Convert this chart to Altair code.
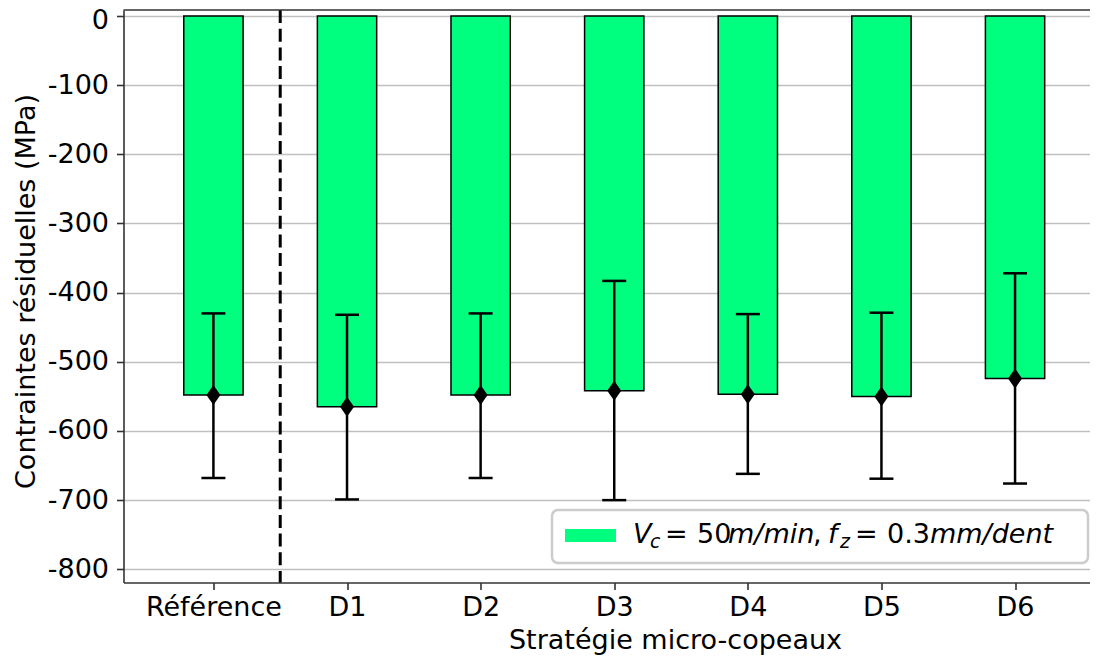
import altair as alt
import pandas as pd

# ---- data ----
categories = ["Référence", "D1", "D2", "D3", "D4", "D5", "D6"]
means = [-548, -565, -548, -542, -547, -550, -524]
err_upper = [-430, -432, -430, -383, -431, -429, -372]
err_lower = [-668, -699, -668, -700, -662, -669, -676]
y_ticks = [0, -100, -200, -300, -400, -500, -600, -700, -800]

df = pd.DataFrame({
    "pos": list(range(len(categories))),
    "cat": categories,
    "mean": means,
    "hi": err_upper,
    "lo": err_lower,
})

W, H = 966.5, 572.5
FONT = "DejaVu Sans"
GREEN = "#00ff7f"

label_expr = "[" + ",".join("'" + c + "'" for c in categories) + "][datum.value]"

x_scale = alt.Scale(domain=[-0.673, 6.561], nice=False, zero=False, padding=0)
y_scale = alt.Scale(domain=[-819.1, 8.7], nice=False, zero=False, padding=0)

x_axis = alt.Axis(values=list(range(len(categories))), labelExpr=label_expr,
                  title="Stratégie micro-copeaux", grid=False, labelPadding=5,
                  titleBaseline="alphabetic", titleX=551.5, titleY=65.5,
                  labelFlush=False)
y_axis = alt.Axis(values=y_ticks, labelExpr="'' + datum.value", grid=True,
                  title="Contraintes résiduelles (MPa)", labelPadding=8,
                  labelOffset={"condition": {"test": "datum.value === 0", "value": 4}, "value": 0},
                  titleBaseline="alphabetic", titleX=-89.5, titleY=281)

X = alt.X("pos:Q", scale=x_scale, axis=x_axis)

base = alt.Chart(df)

bars = base.mark_bar(size=59.3, color=GREEN, stroke="black", strokeWidth=1.5).encode(
    x=X,
    y=alt.Y("mean:Q", scale=y_scale, axis=y_axis),
    y2=alt.datum(0),
)

sep_value = (df["pos"].iloc[0] + df["pos"].iloc[1]) / 2
sep = alt.Chart(pd.DataFrame({"pos": [sep_value]})).mark_rule(
    color="black", strokeWidth=3, strokeDash=[13, 5.7]
).encode(x=X)

err_line = base.mark_rule(color="black", strokeWidth=2.5).encode(
    x=X,
    y=alt.Y("lo:Q", scale=y_scale, axis=y_axis),
    y2="hi:Q",
)
cap_lo = base.mark_tick(orient="horizontal", size=24, thickness=2.5, color="black", opacity=1).encode(
    x=X,
    y=alt.Y("lo:Q", scale=y_scale, axis=y_axis),
)
cap_hi = base.mark_tick(orient="horizontal", size=24, thickness=2.5, color="black", opacity=1).encode(
    x=X,
    y=alt.Y("hi:Q", scale=y_scale, axis=y_axis),
)
diamonds = base.mark_point(shape="M0,-1L0.7,0L0,1L-0.7,0Z", filled=True, size=400,
                           color="black", opacity=1).encode(
    x=X,
    y=alt.Y("mean:Q", scale=y_scale, axis=y_axis),
)

one = pd.DataFrame({"k": [0]})
top_border = alt.Chart(one).mark_rule(color="#333333", strokeWidth=1.6).encode(
    x=alt.value(0), x2=alt.value(W), y=alt.value(0)
)

# ---- legend (drawn by hand for the mathtext subscripts) ----
leg_box = alt.Chart(one).mark_rect(cornerRadius=6, fill="white", fillOpacity=0.8,
                                   stroke="#cccccc", strokeWidth=2.5).encode(
    x=alt.value(428.5), x2=alt.value(964.5), y=alt.value(500), y2=alt.value(553)
)
leg_patch = alt.Chart(one).mark_rect(color=GREEN).encode(
    x=alt.value(441.5), x2=alt.value(492.5), y=alt.value(519), y2=alt.value(532)
)
segments = [
    ("V", "italic", 27, 509.5, 533),
    ("c", "italic", 19, 526.5, 538),
    ("=", "normal", 27, 541.5, 533),
    ("50", "normal", 27, 573.5, 533),
    ("m/min", "italic", 27, 604.5, 533),
    (",", "normal", 27, 689.5, 533),
    ("f", "italic", 27, 704.5, 533),
    ("z", "italic", 19, 716.5, 538),
    ("=", "normal", 27, 731.5, 533),
    ("0.3", "normal", 27, 763.5, 533),
    ("mm/dent", "italic", 27, 806.5, 533),
]
leg_texts = [
    alt.Chart(one).mark_text(text=t, align="left", baseline="alphabetic", font=FONT,
                             fontStyle=st, fontSize=fs, color="black").encode(
        x=alt.value(xx), y=alt.value(yy))
    for t, st, fs, xx, yy in segments
]

chart = alt.layer(
    bars, sep, err_line, cap_lo, cap_hi, diamonds, top_border, leg_box, leg_patch, *leg_texts
).properties(
    width=W, height=H,
    autosize="none",
    padding={"left": 115.5, "top": 2, "right": 0, "bottom": 72.5},
).configure_view(stroke=None).configure_axis(
    labelFont=FONT, titleFont=FONT, labelFontSize=27, titleFontSize=27,
    labelColor="black", titleColor="black", titleFontWeight="normal",
    domainColor="#333333", domainWidth=1.6, tickColor="#333333", tickWidth=1.6,
    tickSize=7, gridColor="#c0c0c0", gridWidth=1.5,
)

chart.save("out.html", embed_options={"renderer": "svg", "actions": False})
